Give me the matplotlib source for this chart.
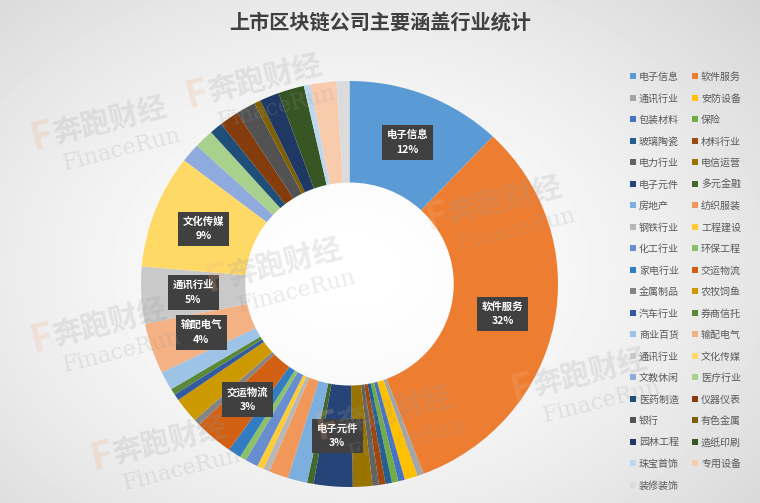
import numpy as np
import matplotlib
matplotlib.use("Agg")
import matplotlib.pyplot as plt
from matplotlib.patches import Patch

plt.rcParams["font.family"] = ["Noto Sans CJK SC", "DejaVu Sans"]

title = "上市区块链公司主要涵盖行业统计"

industries = [
    "电子信息", "软件服务", "通讯行业", "安防设备", "包装材料", "保险",
    "玻璃陶瓷", "材料行业", "电力行业", "电信运营", "电子元件", "多元金融",
    "房地产", "纺织服装", "钢铁行业", "工程建设", "化工行业", "环保工程",
    "家电行业", "交运物流", "金属制品", "农牧饲鱼", "汽车行业", "券商信托",
    "商业百货", "输配电气", "通讯行业", "文化传媒", "文教休闲", "医疗行业",
    "医药制造", "仪器仪表", "银行", "有色金属", "园林工程", "造纸印刷",
    "珠宝首饰", "专用设备", "装修装饰",
]
counts = [
    24, 64, 1, 2, 1, 1,
    1, 1, 1, 3, 6, 1,
    3, 3, 1, 1, 2, 1,
    2, 6, 1, 4, 1, 1,
    3, 8, 9, 18, 3, 3,
    2, 3, 3, 1, 3, 4,
    1, 4, 2,
]
# slices that carry a data label in the original
labeled_idx = [0, 1, 10, 19, 25, 26, 27]

colors = [
    "#5B9BD5", "#ED7D31", "#A5A5A5", "#FFC000", "#4472C4", "#70AD47",
    "#255E91", "#9E480E", "#636363", "#997300", "#264478", "#43682B",
    "#7CAFDD", "#F1975A", "#B7B7B7", "#FFCD33", "#698ED0", "#8CC168",
    "#327DC2", "#D26012", "#848484", "#CC9A00", "#335AA1", "#5A8A39",
    "#9DC3E6", "#F4B183", "#C9C9C9", "#FFD966", "#8FAADC", "#A9D18E",
    "#1F4E79", "#843C0C", "#525252", "#7F6000", "#203864", "#375623",
    "#BDD7EE", "#F8CBAD", "#DBDBDB",
]

W, H = 760, 503
fig = plt.figure(figsize=(W / 100, H / 100), dpi=100)

# soft grey vignette background
bg = fig.add_axes([0, 0, 1, 1], zorder=-2)
yy, xx = np.mgrid[0:H, 0:W]
d = np.sqrt(((xx - 350) / 520.0) ** 2 + ((yy - 270) / 380.0) ** 2)
shade = np.clip(1.0 - 0.15 * d ** 1.6, 0.82, 1.0)
bg.imshow(shade, cmap="gray", vmin=0, vmax=1, aspect="auto", interpolation="bilinear")
bg.axis("off")

# watermarks
marks = [(110, 120), (265, 78), (505, 200), (285, 262), (110, 322), (590, 372), (395, 410), (170, 440)]
for mx, my in marks:
    fig.text(mx / W, 1 - my / H, "奔跑财经", fontsize=21, fontweight="bold", color="#9a9a9a",
             alpha=0.2, rotation=14, ha="center", va="center", zorder=5)
    fig.text((mx + 12) / W, 1 - (my + 30) / H, "FinaceRun", fontsize=16, family="DejaVu Serif",
             color="#9a9a9a", alpha=0.2, rotation=14, ha="center", va="center", zorder=5)
    fig.text((mx - 68) / W, 1 - (my + 16) / H, "F", fontsize=28, fontweight="bold", color="#F4B183",
             alpha=0.22, rotation=14, ha="center", va="center", zorder=5)

# doughnut, slightly wider than tall like the original
cx, cy, rx, ry = 349.5, 284.0, 208.5, 203.0
ax = fig.add_axes([(cx - rx) / W, (H - cy - ry) / H, 2 * rx / W, 2 * ry / H])
ax.set_facecolor("none")
wedges, _ = ax.pie(
    counts,
    colors=colors,
    startangle=90,
    counterclock=False,
    radius=1.0,
    wedgeprops=dict(width=0.5, linewidth=0),
)
ax.set_aspect("auto")
ax.set_xlim(-1, 1)
ax.set_ylim(-1, 1)
ax.axis("off")

total = sum(counts)
for i in labeled_idx:
    w = wedges[i]
    ang = np.deg2rad((w.theta1 + w.theta2) / 2)
    pct = round(counts[i] / total * 100)
    ax.text(0.75 * np.cos(ang), 0.75 * np.sin(ang), f"{industries[i]}\n{pct}%",
            ha="center", va="center", fontsize=7.5, fontweight="bold", color="white",
            linespacing=1.6, zorder=6,
            bbox=dict(boxstyle="square,pad=0.45", facecolor="#404040", edgecolor="none"))

fig.text(0.5, 1 - 22 / H, title, ha="center", va="center", fontsize=14.5,
         fontweight="bold", color="#404040")

# legend is read row by row in the original, matplotlib fills column by column
handles = [Patch(facecolor=c, edgecolor="none") for c in colors]
order = list(range(0, len(industries), 2)) + list(range(1, len(industries), 2))
leg = fig.legend([handles[i] for i in order], [industries[i] for i in order],
                 ncol=2, loc="upper left", bbox_to_anchor=(630 / W, 1 - 72 / H),
                 frameon=False, fontsize=7.2, handlelength=0.55, handleheight=0.55,
                 handletextpad=0.35, columnspacing=1.3, labelspacing=1.15,
                 borderaxespad=0, borderpad=0)
for t in leg.get_texts():
    t.set_color("#595959")

fig.savefig("out.png", dpi=100)
